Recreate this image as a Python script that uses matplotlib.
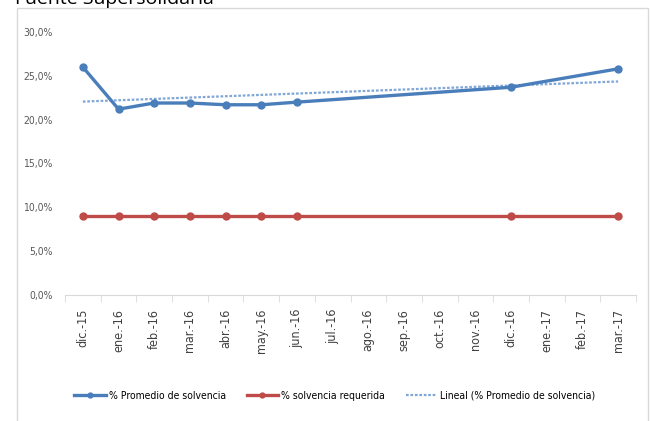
import numpy as np
import matplotlib.pyplot as plt
from matplotlib.patches import Rectangle

# Monthly solvency series (%), blanks where no report was published
months = ["dic.-15", "ene.-16", "feb.-16", "mar.-16", "abr.-16", "may.-16",
          "jun.-16", "jul.-16", "ago.-16", "sep.-16", "oct.-16", "nov.-16",
          "dic.-16", "ene.-17", "feb.-17", "mar.-17"]
promedio = [26.0, 21.2, 21.9, 21.9, 21.7, 21.7, 22.0, None, None, None, None, None,
            23.7, None, None, 25.8]
requerida = [9.0, 9.0, 9.0, 9.0, 9.0, 9.0, 9.0, None, None, None, None, None,
             9.0, None, None, 9.0]
yticks = [0, 5, 10, 15, 20, 25, 30]

narrow = dict(family="DejaVu Sans", stretch="condensed")
blue = "#4a7ebb"
red = "#be4b48"

x = np.arange(len(months))
p = np.array([np.nan if v is None else v for v in promedio])
r = np.array([np.nan if v is None else v for v in requerida])
mp = ~np.isnan(p)
mr = ~np.isnan(r)

fig = plt.figure(figsize=(6.52, 4.21), dpi=100)
ax = fig.add_axes([65 / 652, 1 - 295 / 421, (636 - 65) / 652, (295 - 32) / 421])

# outer chart frame
fig.patches.append(Rectangle((17 / 652, -0.01), (648 - 17) / 652, 1 - 8 / 421 + 0.01,
                             transform=fig.transFigure, fill=False,
                             edgecolor="#d9d9d9", linewidth=1.0))
fig.text(15 / 652, 1 - 4 / 421, "Fuente Supersolidaria", fontsize=14,
         family=["Open Sans", "DejaVu Sans"], va="baseline", ha="left")

# linear trend of the average series
coef = np.polyfit(x[mp], p[mp], 1)
trend = np.polyval(coef, x)

ax.plot(x, trend, color="#7fa6d6", linestyle=(0, (1.2, 0.8)), linewidth=1.6,
        label="Lineal (% Promedio de solvencia)", zorder=2)
ax.plot(x[mp], p[mp], color=blue, linewidth=2.4, marker="o", markersize=5,
        label="% Promedio de solvencia", zorder=3)
ax.plot(x[mr], r[mr], color=red, linewidth=2.4, marker="o", markersize=5,
        label="% solvencia requerida", zorder=3)

ax.set_xlim(-0.5, len(months) - 0.5)
ax.set_ylim(0, 30)
ax.set_yticks(yticks)
ax.set_yticklabels([f"{v:.1f}%".replace(".", ",") for v in yticks],
                   fontsize=7.5, color="#595959", **narrow)
ax.set_xticks(x)
ax.set_xticklabels(months, rotation=90, fontsize=9, color="#404040", **narrow)
ax.set_xticks(np.arange(-0.5, len(months)), minor=True)
ax.tick_params(axis="x", which="major", length=0, pad=10)
ax.tick_params(axis="x", which="minor", length=5, color="#d9d9d9")
ax.tick_params(axis="y", length=0, pad=9)

for side in ["top", "right", "left"]:
    ax.spines[side].set_visible(False)
ax.spines["bottom"].set_color("#d9d9d9")

handles, labels = ax.get_legend_handles_labels()
order = [1, 2, 0]
fig.legend([handles[i] for i in order], [labels[i] for i in order],
           loc="center", bbox_to_anchor=(335 / 652, 1 - 396 / 421), ncol=3,
           frameon=False, prop=dict(size=7.5, **narrow), markerscale=0.7,
           handlelength=3.0, columnspacing=2.0, handletextpad=0.3)

fig.savefig("out.png", dpi=100)
